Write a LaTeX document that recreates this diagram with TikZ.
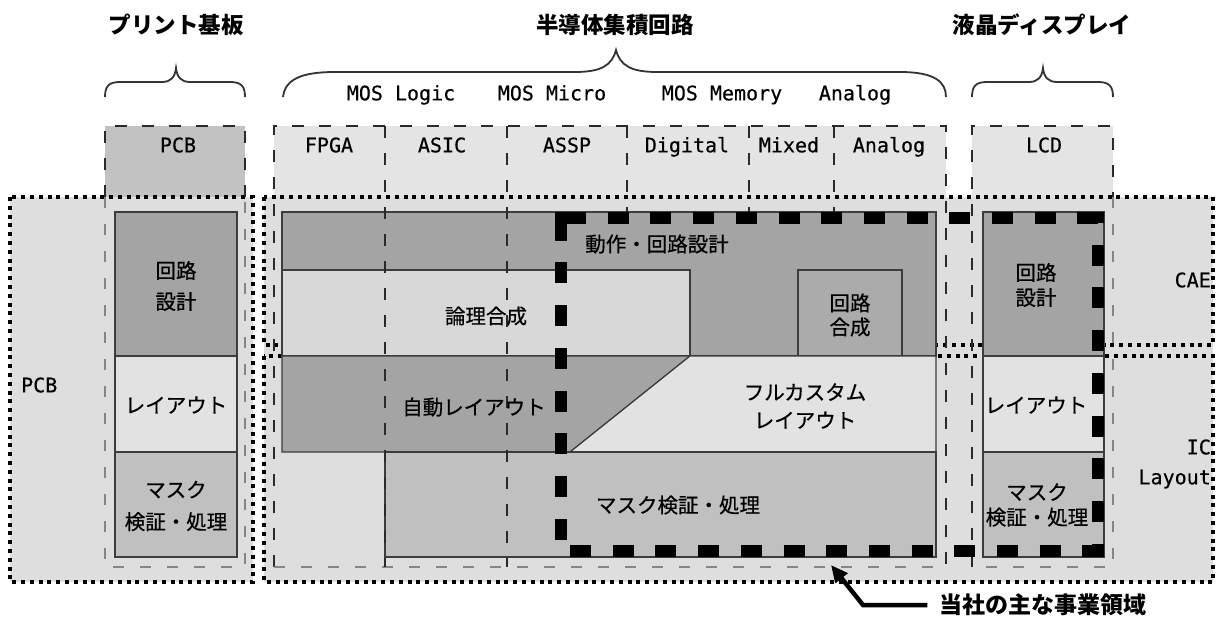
\documentclass[tikz,border=0pt]{standalone}
\usepackage{fontspec}
\newfontfamily\jpf{Noto Sans CJK JP}[FakeBold=0.6]
\newfontfamily\jpt{Noto Sans CJK JP}
\newfontfamily\monof{DejaVu Sans Mono}[FakeBold=0.4]
\usetikzlibrary{arrows.meta}
\definecolor{bgfill}{HTML}{DEDEDE}
\definecolor{hdrfill}{HTML}{E4E4E4}
\definecolor{pcbhdr}{HTML}{C2C2C2}
\definecolor{darkbox}{HTML}{A4A4A4}
\definecolor{synthbox}{HTML}{ABABAB}
\definecolor{logicbox}{HTML}{D8D8D8}
\definecolor{lightbox}{HTML}{E2E2E2}
\definecolor{maskbox}{HTML}{C0C0C0}
\definecolor{edgecol}{HTML}{3C3C3C}
\definecolor{graydash}{HTML}{858585}
\definecolor{darkdash}{HTML}{2A2A2A}
\definecolor{bracecol}{HTML}{333333}
\begin{document}
\begin{tikzpicture}[x=1pt,y=-1pt,
 jpl/.style={font=\jpf\fontsize{20.5}{26}\selectfont, inner sep=0pt, align=center},
 ttl/.style={font=\jpt\bfseries\fontsize{22.5}{27}\selectfont, inner sep=0pt},
 mono/.style={font=\monof\fontsize{20}{24}\selectfont, inner sep=0pt, text height=14.6pt, text depth=0pt},
 boxed/.style={draw=edgecol, line width=1.2pt},
 dotln/.style={draw=black, line width=4pt, dash pattern=on 4pt off 4.8pt},
 ddash/.style={draw=darkdash, line width=1.6pt, dash pattern=on 12pt off 15pt},
 gdash/.style={draw=graydash, line width=2.4pt, dash pattern=on 11pt off 16pt},
 bracestyle/.style={draw=bracecol, line width=1.8pt},
 ownln/.style={draw=black, line width=12pt, dash pattern=on 21pt off 21.7pt}]
\useasboundingbox (0,0) rectangle (1216,621);
\fill[white] (0,0) rectangle (1216,621);

% titles
\node[ttl] (tpcb) at (176,25) {プリント基板};
\node[ttl] (tic) at (615,25) {半導体集積回路};
\node[ttl] (tlcd) at (1042,25) {液晶ディスプレイ};

% braces
\draw[bracestyle] (105,97) .. controls (105,86) and (109,82) .. (120,82) -- (162,82) .. controls (171,82) and (175,77) .. (176,68) .. controls (177,77) and (181,82) .. (190,82) -- (230,82) .. controls (241,82) and (245,86) .. (245,97);
\draw[bracestyle] (283,97) .. controls (285,80) and (300,72) .. (335,72) -- (575,72) .. controls (600,72) and (612,66) .. (616,50) .. controls (620,66) and (632,72) .. (657,72) -- (900,72) .. controls (935,72) and (946,82) .. (946,97);
\draw[bracestyle] (972,97) .. controls (972,86) and (976,82) .. (987,82) -- (1029,82) .. controls (1038,82) and (1042,77) .. (1043,68) .. controls (1044,77) and (1048,82) .. (1057,82) -- (1098,82) .. controls (1109,82) and (1113,86) .. (1113,97);

% sub labels
\node[mono] (mlogic) at (401,93) {MOS Logic};
\node[mono] (mmicro) at (552,93) {MOS Micro};
\node[mono] (mmem) at (722,93) {MOS Memory};
\node[mono] (manalog) at (855,93) {Analog};

% header fills
\fill[pcbhdr] (105,126) rectangle (245,197);
\fill[hdrfill] (274,126) rectangle (946,197);
\fill[hdrfill] (972,126) rectangle (1113,197);

% dotted regions
\fill[bgfill] (10,197) rectangle (253,582);
\fill[bgfill] (264,197) rectangle (1213,582);
\draw[dotln] (10,197) rectangle (253,582);
\draw[dotln] (264,197) rectangle (1213,345);
\draw[dotln] (264,356) rectangle (1213,582);

% PCB stack
\filldraw[boxed, fill=darkbox] (115,212) rectangle (237,356);
\filldraw[boxed, fill=lightbox] (115,356) rectangle (237,452);
\filldraw[boxed, fill=maskbox] (115,452) rectangle (237,557);

% IC blocks
\filldraw[boxed, fill=darkbox] (282,212) rectangle (936,356);
\filldraw[boxed, fill=logicbox] (282,270) rectangle (690,356);
\filldraw[boxed, fill=synthbox] (798,270) rectangle (902,356);
\filldraw[boxed, fill=darkbox] (282,356) -- (690,356) -- (570,452) -- (282,452) -- cycle;
\filldraw[boxed, fill=lightbox] (690,356) -- (936,356) -- (936,452) -- (570,452) -- cycle;
\filldraw[boxed, fill=maskbox] (385,452) rectangle (936,557);

% LCD stack
\filldraw[boxed, fill=darkbox] (983,212) rectangle (1104,356);
\filldraw[boxed, fill=lightbox] (983,356) rectangle (1104,452);
\filldraw[boxed, fill=maskbox] (983,452) rectangle (1104,557);

% dashed columns
\draw[ddash] (105,197) -- (105,126) -- (245,126) -- (245,197);
\draw[gdash] (105,197) -- (105,567) -- (245,567) -- (245,197);
\draw[ddash] (274,567) -- (274,126) -- (946,126) -- (946,567);
\draw[gdash] (274,567) -- (946,567);
\draw[ddash] (385,126) -- (385,567);
\draw[ddash] (507,126) -- (507,567);
\draw[ddash] (627,126) -- (627,212);
\draw[ddash] (749,126) -- (749,212);
\draw[ddash] (834,126) -- (834,212);
\draw[ddash] (972,567) -- (972,126) -- (1113,126) -- (1113,197);
\draw[gdash] (1113,197) -- (1113,567) -- (972,567);

% main business area (thick dashes)
\draw[ownln] (565,218) -- (1104,218);
\draw[ownln, dash phase=10pt] (1098,212) -- (1098,557);
\draw[ownln] (570,551) -- (1104,551);
\draw[ownln, dash phase=35pt] (561,212) -- (561,545);
\fill[black] (555,212) rectangle (566,224);

% header labels
\node[mono] (hpcb) at (178,145) {PCB};
\node[mono] (hfpga) at (329,145) {FPGA};
\node[mono] (hasic) at (442,145) {ASIC};
\node[mono] (hassp) at (567,145) {ASSP};
\node[mono] (hdig) at (687,145) {Digital};
\node[mono] (hmix) at (789,145) {Mixed};
\node[mono] (hana) at (889,145) {Analog};
\node[mono] (hlcd) at (1044,145) {LCD};

% side labels
\node[mono, anchor=west] (spcb) at (21,385) {PCB};
\node[mono, anchor=east] (scae) at (1211,280) {CAE};
\node[mono, anchor=east] (sic) at (1211,447) {IC};
\node[mono, anchor=east] (slay) at (1211,477) {Layout};

% box labels
\node[jpl, font=\jpf\fontsize{20.5}{31}\selectfont] (pckt) at (176,286) {回路\\設計};
\node[jpl] (play) at (176,405) {レイアウト};
\node[jpl, font=\jpf\fontsize{20.5}{32}\selectfont] (pmask) at (176,506) {マスク\\検証・処理};

\node[jpl] (icbeh) at (657,244) {動作・回路設計};
\node[jpl] (iclogic) at (486,316) {論理合成};
\node[jpl, font=\jpf\fontsize{20.5}{24}\selectfont] (icsyn) at (850,315) {回路\\合成};
\node[jpl] (icauto) at (474,407) {自動レイアウト};
\node[jpl, font=\jpf\fontsize{20.5}{28}\selectfont] (icfull) at (805,406) {フルカスタム\\レイアウト};
\node[jpl] (icmask) at (678,505) {マスク検証・処理};

\node[jpl, font=\jpf\fontsize{20.5}{25}\selectfont] (lckt) at (1036,285) {回路\\設計};
\node[jpl] (llay) at (1036,405) {レイアウト};
\node[jpl, font=\jpf\fontsize{20.5}{25}\selectfont] (lmask) at (1037,505) {マスク\\検証・処理};

% arrow to main business area
\node[ttl, font=\jpt\bfseries\fontsize{23}{27}\selectfont] (biz) at (1043,605) {当社の主な事業領域};
\coordinate (elbow) at (863,605);
\coordinate (atip) at (831,565);
\draw[line width=4.5pt, -{Triangle[length=17pt,width=15pt]}] ([xshift=-12pt]biz.west) -- (elbow |- biz.west) -- (atip);
\end{tikzpicture}
\end{document}
